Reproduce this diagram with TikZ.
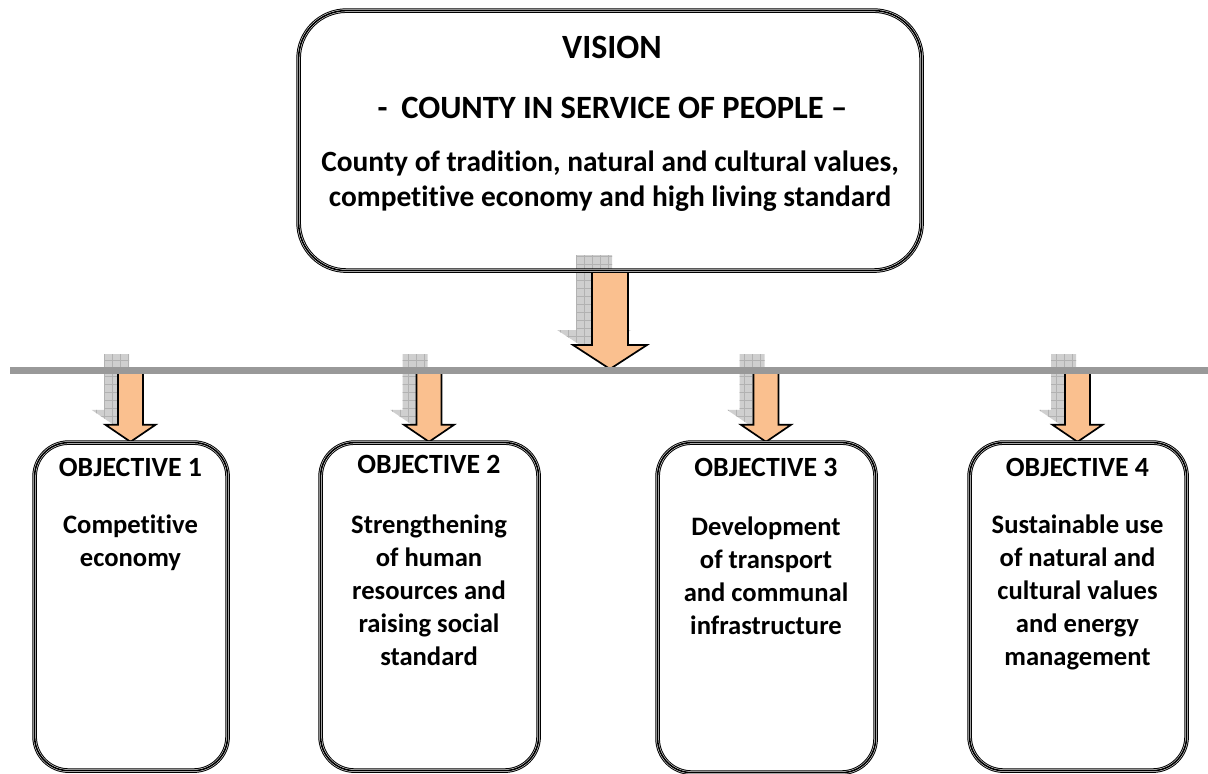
\documentclass[tikz,border=0pt]{standalone}
\usepackage{fontspec}
\setmainfont{Carlito}[Ligatures=NoCommon]
\usetikzlibrary{calc}
\definecolor{peach}{RGB}{250,192,143}
\definecolor{rulegray}{RGB}{153,153,153}
\tikzset{
  frame/.style={rounded corners=#1,
    preaction={draw=black, line width=4.6pt},
    preaction={draw=white, line width=2.6pt},
    draw=black, line width=1.6pt, inner sep=0pt},
  arrowbody/.style={fill=peach, draw=black, line width=1.7pt, line join=miter},
  objtxt/.style={font=\fontsize{26.6}{33}\selectfont\bfseries, align=center, inner sep=0pt, anchor=base},
  objhead/.style={font=\fontsize{27.8}{33}\selectfont\bfseries, inner sep=0pt, anchor=base},
  vistxt/.style={font=\fontsize{29.4}{35}\selectfont\bfseries, align=center, inner sep=0pt, anchor=base},
}
% #1 from, #2 to (tip), #3 shaft half width, #4 head half width, #5 head length, #6 dx, #7 dy (canvas pt)
\newcommand\arrowshadow[7]{%
  \begin{scope}
    \clip let \p1=($(#1)+(#6pt,#7pt)$), \p2=($(#2)+(#6pt,#7pt)$) in
      (\x2-#3pt,\y1) -- (\x2+#3pt,\y1) -- (\x2+#3pt,\y2+#5pt) -- (\x2+#4pt,\y2+#5pt)
      -- (\x2,\y2) -- (\x2-#4pt,\y2+#5pt) -- (\x2-#3pt,\y2+#5pt) -- cycle;
    \fill[gray!38] (0,0) rectangle (1208,774);
    \draw[gray!60, line width=0.7pt, step=8pt] (0,0) grid (1208,774);
  \end{scope}}
\newcommand\arrowbody[5]{%
  \draw[arrowbody] let \p1=(#1), \p2=(#2) in
      (\x2-#3pt,\y1) -- (\x2+#3pt,\y1) -- (\x2+#3pt,\y2+#5pt) -- (\x2+#4pt,\y2+#5pt)
      -- (\x2,\y2) -- (\x2-#4pt,\y2+#5pt) -- (\x2-#3pt,\y2+#5pt) -- cycle;}
\begin{document}
\begin{tikzpicture}[x=1pt,y=-1pt]
\useasboundingbox (0,0) rectangle (1208,774);

% box placeholders
\path (609.5,140) node[minimum width=623pt, minimum height=260pt, inner sep=0pt] (v) {};
\path (130.5,606) node[minimum width=193pt, minimum height=328pt, inner sep=0pt] (o1) {};
\path (429,606) node[minimum width=218pt, minimum height=328pt, inner sep=0pt] (o2) {};
\path (766,607) node[minimum width=218pt, minimum height=330pt, inner sep=0pt] (o3) {};
\path (1077.5,606) node[minimum width=217pt, minimum height=328pt, inner sep=0pt] (o4) {};

% coordinates on the horizontal rule
\coordinate (hub) at (610,369);
\coordinate (c1) at (130,369);
\coordinate (c2) at (430,369);
\coordinate (c3) at (765,369);
\coordinate (c4) at (1082,369);
\coordinate (ruleL) at (10,370);
\coordinate (ruleR) at (1208,370);

% shadows
\arrowshadow{v.south}{hub}{18}{37}{24}{-16}{15}
\arrowshadow{c1}{o1.north}{12.5}{25}{17}{-14}{15}
\arrowshadow{c2}{o2.north}{12.5}{25}{17}{-14}{15}
\arrowshadow{c3}{o3.north}{12.5}{25}{17}{-14}{15}
\arrowshadow{c4}{o4.north}{12.5}{25}{17}{-14}{15}

% arrows
\arrowbody{v.south}{hub}{18}{37}{24}
\arrowbody{c1}{o1.north}{12.5}{25}{17}
\arrowbody{c2}{o2.north}{12.5}{25}{17}
\arrowbody{c3}{o3.north}{12.5}{25}{17}
\arrowbody{c4}{o4.north}{12.5}{25}{17}

% horizontal rule
\draw[rulegray, line width=7pt] (ruleL) -- (ruleR);

% frames
\path (v.north west) node[frame=48pt, anchor=north west, minimum width=623pt, minimum height=260pt] (vf) {};
\path (o1.north west) node[frame=34pt, anchor=north west, minimum width=193pt, minimum height=328pt] (o1f) {};
\path (o2.north west) node[frame=34pt, anchor=north west, minimum width=218pt, minimum height=328pt] (o2f) {};
\path (o3.north west) node[frame=34pt, anchor=north west, minimum width=218pt, minimum height=330pt] (o3f) {};
\path (o4.north west) node[frame=34pt, anchor=north west, minimum width=217pt, minimum height=328pt] (o4f) {};

% vision text (base anchor = baseline of last line)
\node[vistxt, font=\fontsize{34}{40}\selectfont\bfseries] (t0) at (612,58) {VISION};
\node[vistxt, font=\fontsize{32.5}{38}\selectfont\bfseries] (t1) at (612.5,118) {-\hspace{0.42em}COUNTY IN SERVICE OF PEOPLE --};
\node[vistxt] (t2) at (610,206) {County of tradition, natural and cultural values,\\competitive economy and high living standard};

% objective texts
\node[objhead] (h1) at (130.5,476) {OBJECTIVE 1};
\node[objtxt] (b1) at (130.5,566.5) {Competitive\\economy};
\node[objhead] (h2) at (429,473) {OBJECTIVE 2};
\node[objtxt] (b2) at (429,665.5) {Strengthening\\of human\\resources and\\raising social\\standard};
\node[objhead] (h3) at (766,476) {OBJECTIVE 3};
\node[objtxt] (b3) at (766,634.5) {Development\\of transport\\and communal\\infrastructure};
\node[objhead] (h4) at (1077.5,476) {OBJECTIVE 4};
\node[objtxt] (b4) at (1077.5,665.5) {Sustainable use\\of natural and\\cultural values\\and energy\\management};
\end{tikzpicture}
\end{document}
